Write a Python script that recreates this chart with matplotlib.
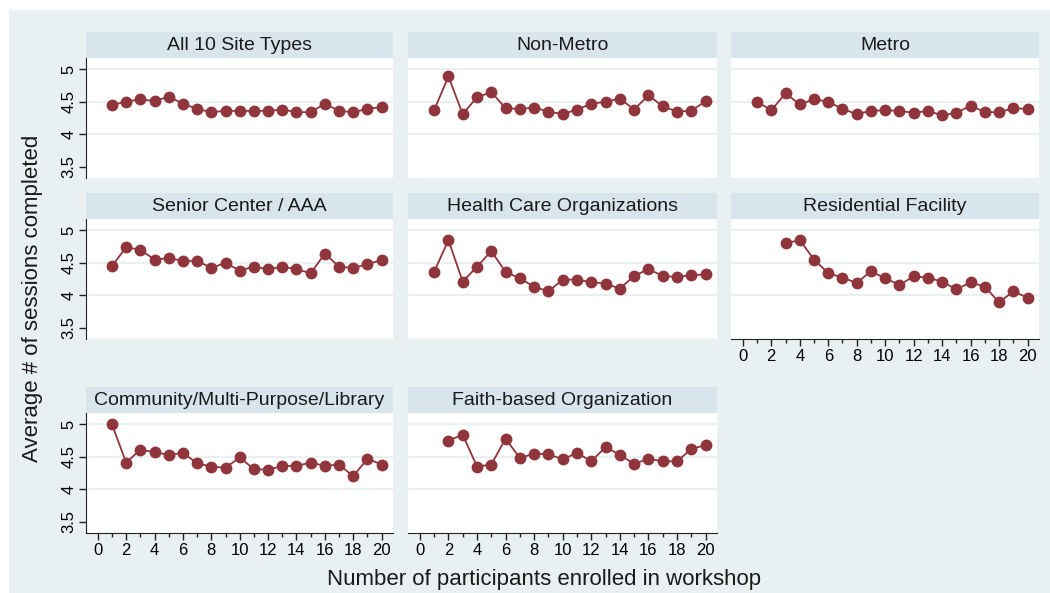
import numpy as np
import matplotlib.pyplot as plt
from matplotlib.patches import Rectangle
from matplotlib.ticker import MultipleLocator

plt.rcParams['font.family'] = ['Liberation Sans', 'DejaVu Sans']

# data (x = participants enrolled, y = avg sessions completed)
x_all = list(range(1, 21))
all_sites = [4.45, 4.50, 4.54, 4.51, 4.58, 4.47, 4.39, 4.34, 4.36, 4.36,
             4.36, 4.36, 4.38, 4.34, 4.34, 4.47, 4.36, 4.34, 4.39, 4.42]
non_metro = [4.37, 4.89, 4.31, 4.57, 4.65, 4.40, 4.39, 4.41, 4.35, 4.31,
             4.38, 4.47, 4.50, 4.55, 4.38, 4.60, 4.43, 4.35, 4.36, 4.51]
metro = [4.50, 4.37, 4.63, 4.46, 4.54, 4.50, 4.39, 4.31, 4.36, 4.37,
         4.36, 4.33, 4.36, 4.29, 4.33, 4.44, 4.34, 4.34, 4.40, 4.39]
senior = [4.45, 4.74, 4.70, 4.55, 4.57, 4.53, 4.53, 4.42, 4.50, 4.38,
          4.44, 4.40, 4.44, 4.40, 4.34, 4.64, 4.44, 4.42, 4.48, 4.54]
health = [4.36, 4.85, 4.21, 4.44, 4.68, 4.36, 4.26, 4.13, 4.06, 4.24,
          4.24, 4.20, 4.18, 4.10, 4.30, 4.40, 4.30, 4.28, 4.31, 4.32]
x_resid = list(range(3, 21))
residential = [4.80, 4.85, 4.55, 4.34, 4.27, 4.19, 4.37, 4.26, 4.16,
               4.29, 4.27, 4.21, 4.09, 4.20, 4.13, 3.89, 4.06, 3.96]
community = [5.00, 4.41, 4.61, 4.57, 4.53, 4.56, 4.40, 4.35, 4.33, 4.49,
             4.31, 4.30, 4.36, 4.36, 4.41, 4.36, 4.38, 4.20, 4.47, 4.38]
x_faith = list(range(2, 21))
faith = [4.75, 4.84, 4.35, 4.38, 4.78, 4.48, 4.55, 4.54, 4.46, 4.56,
         4.43, 4.65, 4.53, 4.39, 4.47, 4.43, 4.43, 4.62, 4.68]

titles = ["All 10 Site Types", "Non-Metro", "Metro",
          "Senior Center / AAA", "Health Care Organizations", "Residential Facility",
          "Community/Multi-Purpose/Library", "Faith-based Organization"]
xs = [x_all, x_all, x_all, x_all, x_all, x_resid, x_all, x_faith]
ys = [all_sites, non_metro, metro, senior, health, residential, community, faith]

W, H = 1050, 593
BG = "#e8f0f2"
STRIP = "#d9e5ec"
LINE = "#90353b"
AX = "#222222"

cols = [(86, 393), (408, 717), (731, 1039)]
rows = [(32, 58, 178), (193, 219, 339), (387, 413, 533)]   # strip top, plot top, plot bottom
has_x = [False, False, False, False, False, True, True, True]

fig = plt.figure(figsize=(W / 100, H / 100), dpi=100, facecolor="white")
fig.patches.append(Rectangle((9 / W, 0), 1 - 9 / W, 1 - 10 / H, transform=fig.transFigure,
                             facecolor=BG, edgecolor="none", zorder=-10))

for i, (title, x, y) in enumerate(zip(titles, xs, ys)):
    r, c = divmod(i, 3)
    l, rr = cols[c]
    st, pt, pb = rows[r]
    ax = fig.add_axes([l / W, 1 - pb / H, (rr - l) / W, (pb - pt) / H])
    sax = fig.add_axes([l / W, 1 - pt / H, (rr - l) / W, (pt - st) / H])
    sax.set_facecolor(STRIP)
    sax.set_xticks([]); sax.set_yticks([])
    for s in sax.spines.values():
        s.set_visible(False)
    sax.text(0.5, 0.47, title, ha="center", va="center", fontsize=14, color="#1a1a1a",
             transform=sax.transAxes)

    ax.set_facecolor("white")
    for g in (4, 4.5, 5):
        ax.axhline(g, color=BG, lw=1.5, zorder=0)
    ax.plot(x, y, color=LINE, lw=1.3, marker="o", ms=7.5, zorder=3)
    ax.set_xlim(-0.83, 20.8)
    ax.set_ylim(3.325, 5.175)

    for s in ax.spines.values():
        s.set_visible(False)
    if c == 0:
        ax.spines["left"].set_visible(True)
        ax.spines["left"].set_color(AX)
        ax.set_yticks([3.5, 4, 4.5, 5])
        ax.set_yticklabels(["3.5", "4", "4.5", "5"], rotation=90, va="center")
        ax.tick_params(axis="y", length=5, width=1, color=AX, labelsize=12, pad=2)
    else:
        ax.set_yticks([])
    if has_x[i]:
        ax.spines["bottom"].set_visible(True)
        ax.spines["bottom"].set_color(AX)
        ax.xaxis.set_major_locator(MultipleLocator(2))
        ax.xaxis.set_minor_locator(MultipleLocator(1))
        ax.tick_params(axis="x", which="major", length=5, width=1, color=AX,
                       labelsize=12, pad=2)
        ax.tick_params(axis="x", which="minor", length=3, width=1, color=AX)
    else:
        ax.set_xticks([])

fig.text(33 / W, 1 - 298 / H, "Average # of sessions completed", rotation=90,
         ha="center", va="center", fontsize=16, color="#1a1a1a")
fig.text(544 / W, 1 - 580 / H, "Number of participants enrolled in workshop",
         ha="center", va="center", fontsize=16, color="#1a1a1a")

fig.savefig("out.png", dpi=100, facecolor="white")
